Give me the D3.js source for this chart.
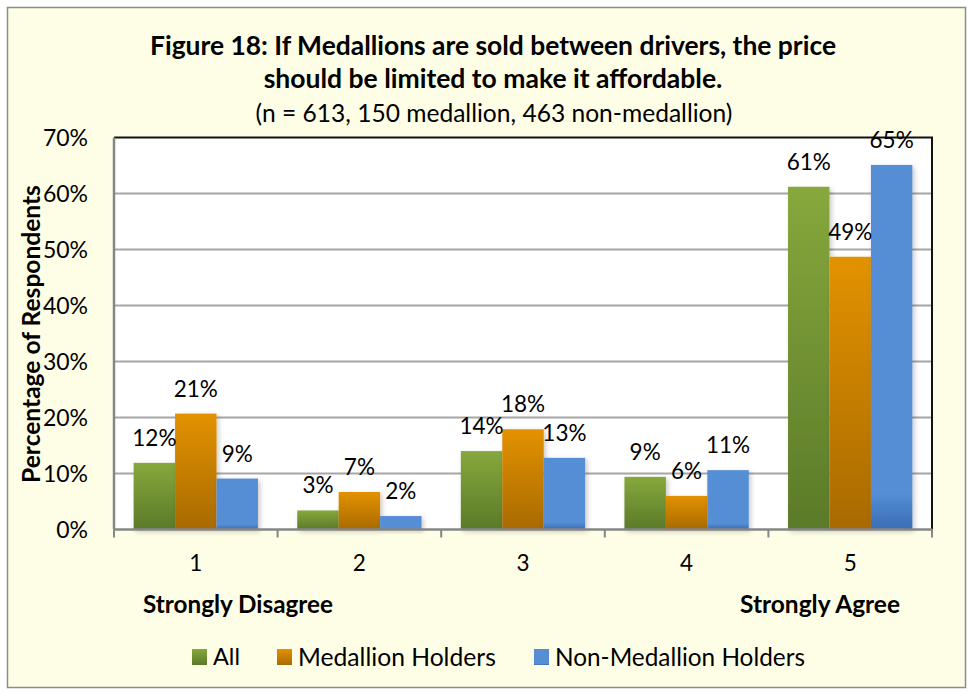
<!DOCTYPE html>
<html>
<head>
<meta charset="utf-8">
<script src="https://cdn.jsdelivr.net/npm/d3@7"></script>
<style>
  body { margin: 0; background: #fff; }
  svg text { font-family: Lato, "Noto Sans", sans-serif; fill: #000; }
</style>
</head>
<body>
<svg id="chart" width="970" height="692"></svg>
<script>
WIDTH = 970;
HEIGHT = 692;

// data
const categories = ['1', '2', '3', '4', '5'];
const seriesNames = ['All', 'Medallion Holders', 'Non-Medallion Holders'];
const allValues = [11.9, 3.4, 14.0, 9.4, 61.2];
const medallionValues = [20.7, 6.7, 17.9, 6.0, 48.7];
const nonMedallionValues = [9.1, 2.4, 12.8, 10.6, 65.1];
const yTicks = [0, 10, 20, 30, 40, 50, 60, 70];
const titleLines = [
  'Figure 18: If Medallions are sold between drivers, the price',
  'should be limited to make it affordable.',
];
const subtitle = '(n = 613, 150 medallion, 463 non-medallion)';
const yTitle = 'Percentage of Respondents';

const seriesValues = [allValues, medallionValues, nonMedallionValues];
const gradients = [
  {id: 'g-all', top: '#86a83c', bottom: '#5b7a29'},
  {id: 'g-med', top: '#e39200', bottom: '#a86a02'},
  {id: 'g-non', top: '#558ed5', bottom: '#558ed5', dark: '#3a6db5'},
];

// shrink/grow a text node until it spans the wanted width
function fitWidth(sel, target) {
  const node = sel.node();
  const size = parseFloat(sel.attr('font-size'));
  const w = node.getComputedTextLength();
  sel.attr('font-size', (size * target / w).toFixed(2));
}

function drawChart() {
  const margin = {top: 137.5, left: 114, right: 38, bottom: 162.5};
  const width = WIDTH - margin.left - margin.right;
  const height = HEIGHT - margin.top - margin.bottom;

  const svg = d3.select('#chart');

  const defs = svg.append('defs');
  gradients.forEach((g) => {
    const lg = defs.append('linearGradient')
      .attr('id', g.id)
      .attr('x1', 0).attr('y1', 0).attr('x2', 0).attr('y2', 1);
    lg.append('stop').attr('offset', '0%').attr('stop-color', g.top);
    lg.append('stop').attr('offset', g.dark ? '90%' : '100%').attr('stop-color', g.bottom);
    if (g.dark) {
      lg.append('stop').attr('offset', '100%').attr('stop-color', g.dark);
    }
  });
  const shadow = defs.append('filter')
    .attr('id', 'shadow')
    .attr('x', '-20%').attr('y', '-20%').attr('width', '150%').attr('height', '150%');
  shadow.append('feDropShadow')
    .attr('dx', 2).attr('dy', 2)
    .attr('stdDeviation', 2.5)
    .attr('flood-color', '#000')
    .attr('flood-opacity', 0.22);

  // chart area background + outer frame
  svg.append('rect')
    .attr('x', 7.5).attr('y', 7.5)
    .attr('width', WIDTH - 12).attr('height', HEIGHT - 12)
    .attr('fill', '#fefee6')
    .attr('stroke', '#8c8c8c')
    .attr('stroke-width', 1.5);

  // titles
  const titleY = [55, 88];
  titleLines.forEach((line, i) => {
    const t = svg.append('text')
      .attr('x', 493).attr('y', titleY[i])
      .attr('text-anchor', 'middle')
      .attr('font-size', 22)
      .attr('font-weight', 'bold')
      .text(line);
    fitWidth(t, i === 0 ? 686 : 459);
  });
  const sub = svg.append('text')
    .attr('x', 494).attr('y', 122)
    .attr('text-anchor', 'middle')
    .attr('font-size', 20)
    .text(subtitle);
  fitWidth(sub, 477);

  const g = svg.append('g')
    .attr('transform', `translate(${margin.left}, ${margin.top})`);

  const x0 = d3.scaleBand()
    .domain(categories)
    .range([0, width])
    .paddingInner(0.24)
    .paddingOuter(0.12);
  const x1 = d3.scaleBand()
    .domain(seriesNames)
    .range([0, x0.bandwidth()]);
  const y = d3.scaleLinear().domain([0, 70]).range([height, 0]);

  g.append('rect')
    .attr('width', width).attr('height', height)
    .attr('fill', '#fff');

  // gridlines
  g.append('g')
    .selectAll('line')
    .data(yTicks.filter((d) => d > 0 && d < 70))
    .join('line')
    .attr('x1', 0).attr('x2', width)
    .attr('y1', (d) => y(d)).attr('y2', (d) => y(d))
    .attr('stroke', '#a6a6a6')
    .attr('stroke-width', 2);

  // top and right border
  g.append('path')
    .attr('d', `M0,${y(70)}H${width}V${height}`)
    .attr('fill', 'none')
    .attr('stroke', '#111')
    .attr('stroke-width', 2);

  // bars
  const groups = g.selectAll('.grp')
    .data(categories)
    .join('g')
    .attr('class', 'grp')
    .attr('transform', (d) => `translate(${x0(d)}, 0)`);

  groups.selectAll('rect')
    .data((d, i) => seriesNames.map((s, k) => ({series: s, k: k, value: seriesValues[k][i]})))
    .join('rect')
    .attr('x', (d) => x1(d.series))
    .attr('width', x1.bandwidth())
    .attr('y', (d) => y(d.value))
    .attr('height', (d) => height - y(d.value))
    .attr('fill', (d) => `url(#${gradients[d.k].id})`)
    .attr('filter', 'url(#shadow)');

  const fmt = (v) => `${Math.round(v)}%`;
  groups.selectAll('.lbl')
    .data((d, i) => seriesNames.map((s, k) => ({series: s, value: seriesValues[k][i]})))
    .join('text')
    .attr('class', 'lbl')
    .attr('x', (d) => x1(d.series) + x1.bandwidth() / 2)
    .attr('y', (d) => y(d.value) - 17)
    .attr('text-anchor', 'middle')
    .attr('font-size', 22.5)
    .text((d) => fmt(d.value));

  // x axis
  const xAxis = g.append('g').attr('transform', `translate(0, ${height})`);
  xAxis.append('line')
    .attr('x1', 0).attr('x2', width)
    .attr('stroke', '#868686').attr('stroke-width', 2.5);
  xAxis.selectAll('.tick')
    .data(d3.range(categories.length + 1))
    .join('line')
    .attr('class', 'tick')
    .attr('x1', (i) => i * x0.step()).attr('x2', (i) => i * x0.step())
    .attr('y1', 0).attr('y2', 8)
    .attr('stroke', '#868686').attr('stroke-width', 2);
  xAxis.selectAll('.cat')
    .data(categories)
    .join('text')
    .attr('class', 'cat')
    .attr('x', (d) => x0(d) + x0.bandwidth() / 2)
    .attr('y', 41)
    .attr('text-anchor', 'middle')
    .attr('font-size', 22.5)
    .text((d) => d);

  const dis = xAxis.append('text')
    .attr('x', 29).attr('y', 83)
    .attr('font-size', 21)
    .attr('font-weight', 'bold')
    .text('Strongly Disagree');
  fitWidth(dis, 190);
  const agr = xAxis.append('text')
    .attr('x', 786).attr('y', 83)
    .attr('text-anchor', 'end')
    .attr('font-size', 21)
    .attr('font-weight', 'bold')
    .text('Strongly Agree');
  fitWidth(agr, 160);

  // y axis
  g.append('line')
    .attr('x1', 0).attr('x2', 0)
    .attr('y1', 0).attr('y2', height)
    .attr('stroke', '#868686').attr('stroke-width', 2.5);
  g.append('g')
    .selectAll('text')
    .data(yTicks)
    .join('text')
    .attr('x', -26)
    .attr('y', (d) => y(d))
    .attr('dy', '0.35em')
    .attr('text-anchor', 'end')
    .attr('font-size', 23)
    .text((d) => `${d}%`);

  const yt = svg.append('text')
    .attr('transform', 'translate(40, 334) rotate(-90)')
    .attr('text-anchor', 'middle')
    .attr('font-size', 21)
    .attr('font-weight', 'bold')
    .text(yTitle);
  fitWidth(yt, 298);

  // legend
  const legendX = [192, 277, 534];
  const legendW = [27, 198, 250];
  const legend = svg.append('g')
    .selectAll('g')
    .data(seriesNames)
    .join('g')
    .attr('transform', (d, i) => `translate(${legendX[i]}, 649)`);
  legend.append('rect')
    .attr('width', 15).attr('height', 16)
    .attr('fill', (d, i) => `url(#${gradients[i].id})`);
  legend.append('text')
    .attr('x', 21).attr('y', 8)
    .attr('dy', '0.36em')
    .attr('font-size', 23)
    .text((d) => d)
    .each(function (d, i) { fitWidth(d3.select(this), legendW[i]); });
}

drawChart();
</script>
</body>
</html>
